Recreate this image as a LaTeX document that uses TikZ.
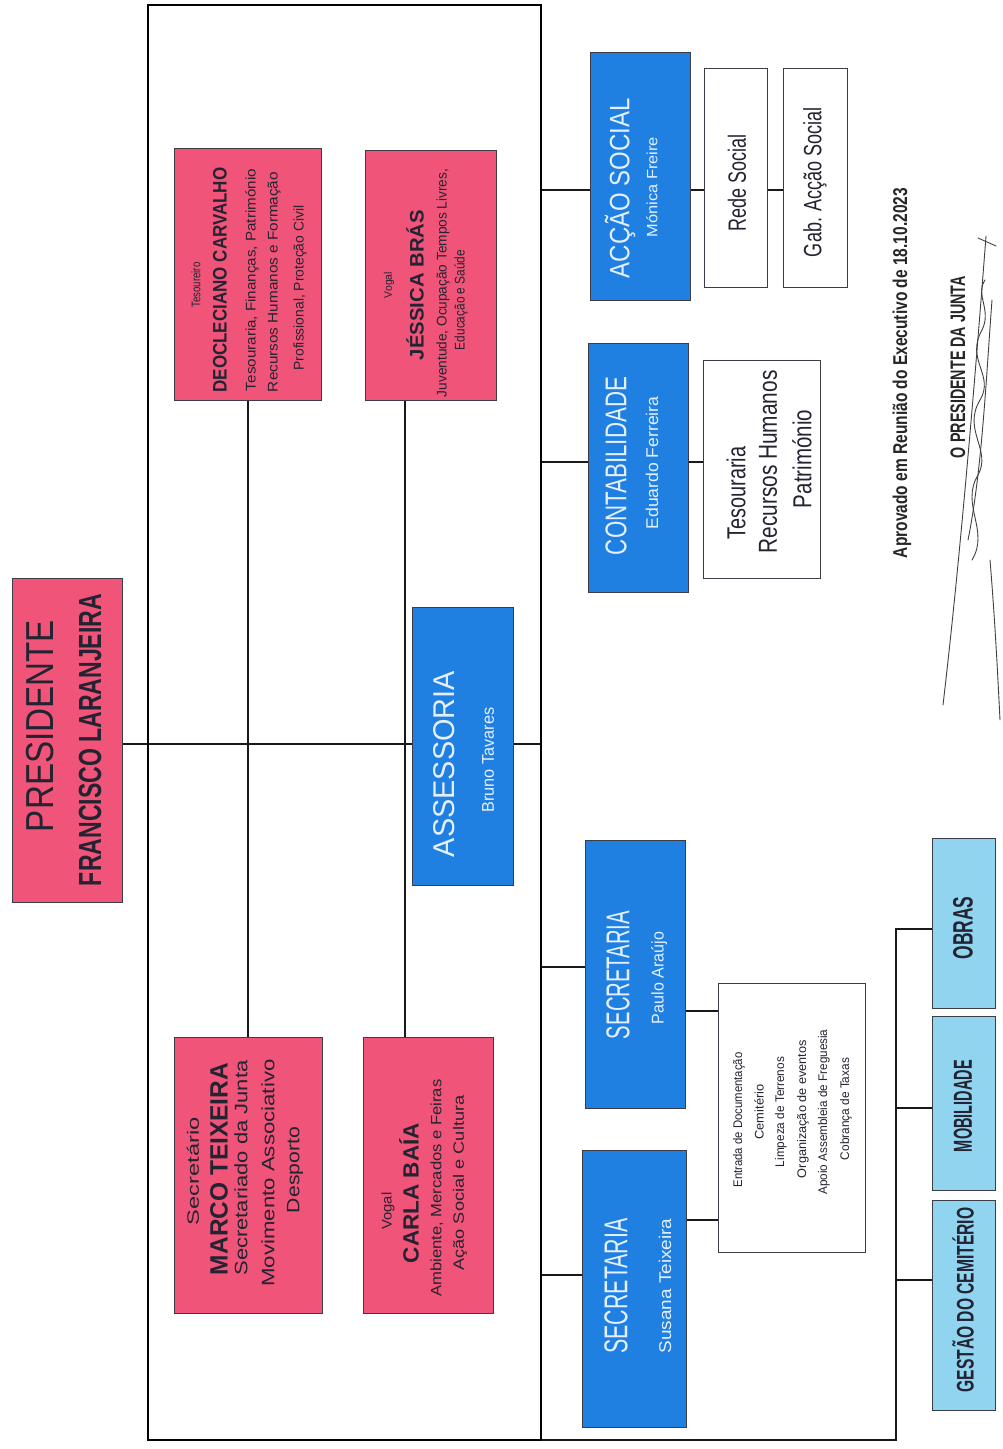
\documentclass[tikz,border=0pt]{standalone}
\usepackage{fontspec}
\setmainfont{Liberation Sans}
\usetikzlibrary{backgrounds}
\definecolor{redfill}{RGB}{240,84,120}
\definecolor{bluefill}{RGB}{32,128,226}
\definecolor{lightfill}{RGB}{145,212,240}
\definecolor{boxline}{RGB}{60,60,70}
\definecolor{paletext}{RGB}{228,240,255}
\definecolor{darktext}{RGB}{35,35,50}
\newcommand{\fit}[3]{\resizebox{#1pt}{\height}{\fontsize{#2}{#2}\selectfont #3}}
\begin{document}
\begin{tikzpicture}[x=1pt,y=-1pt,
  every node/.style={inner sep=0pt, outer sep=0pt},
  cbox/.style n args={3}{draw=boxline, line width=0.8pt, fill=#1, minimum width=#2, minimum height=#3},
  redbox/.style 2 args={cbox={redfill}{#1}{#2}},
  bluebox/.style 2 args={cbox={bluefill}{#1}{#2}},
  whitebox/.style 2 args={cbox={white}{#1}{#2}},
  lightbox/.style 2 args={cbox={lightfill}{#1}{#2}},
  txt/.style={rotate=90, anchor=center, text=darktext},
  wtxt/.style={rotate=90, anchor=center, text=paletext},
  link/.style={draw=black!90, line width=1.8pt},
  sign/.style={draw=black!75, line width=0.9pt, line cap=round}
]
\begin{scope}[on background layer]
\fill[white] (0,0) rectangle (1002,1449);
\end{scope}
\useasboundingbox (0,0) rectangle (1002,1449);

% frame
\node[draw=black, line width=2.6pt, minimum width=393, minimum height=1435] (frame) at (344.5,722.5) {};

% president
\node[redbox={110}{324}] (pres) at (67,740) {};
\node[txt] (presT) at (40,726) {\fit{212}{39}{PRESIDENTE}};
\node[txt] (presN) at (90,740) {\fit{292}{32}{\bfseries FRANCISCO LARANJEIRA}};

% tesoureiro
\node[redbox={147}{252}] (tes) at (248,274) {};
\node[txt] (tes1) at (196,285) {\fit{45}{12.5}{Tesoureiro}};
\node[txt] (tes2) at (220,280) {\fit{225}{19.5}{\bfseries DEOCLECIANO CARVALHO}};
\node[txt] (tes3) at (252,280) {\fit{222}{14}{Tesouraria, Finanças, Património}};
\node[txt] (tes4) at (274,282) {\fit{220}{14}{Recursos Humanos e Formação}};
\node[txt] (tes5) at (300,288) {\fit{165}{14}{Profissional, Proteção Civil}};

% jessica
\node[redbox={131}{250}] (jes) at (430.5,275) {};
\node[txt] (jes1) at (389,285) {\fit{26}{11}{Vogal}};
\node[txt] (jes2) at (415,285) {\fit{150}{19.5}{\bfseries JÉSSICA BRÁS}};
\node[txt] (jes3) at (443,283) {\fit{228}{14}{Juventude, Ocupação Tempos Livres,}};
\node[txt] (jes4) at (461,300) {\fit{100}{14}{Educação e Saúde}};

% marco
\node[redbox={148}{276}] (marco) at (248,1175) {};
\node[txt] (mar1) at (193,1171) {\fit{108}{16.5}{Secretário}};
\node[txt] (mar2) at (219,1169) {\fit{212}{25}{\bfseries MARCO TEIXEIRA}};
\node[txt] (mar3) at (241,1168) {\fit{215}{18}{Secretariado da Junta}};
\node[txt] (mar4) at (268,1173) {\fit{227}{18}{Movimento Associativo}};
\node[txt] (mar5) at (295,1170) {\fit{86}{18}{Desporto}};

% carla
\node[redbox={130}{276}] (carla) at (428,1175) {};
\node[txt] (car1) at (388,1211) {\fit{37}{14}{Vogal}};
\node[txt] (car2) at (409,1193) {\fit{140}{22}{\bfseries CARLA BAÍA}};
\node[txt] (car3) at (437,1188) {\fit{217}{15}{Ambiente, Mercados e Feiras}};
\node[txt] (car4) at (460,1183) {\fit{175}{15}{Ação Social e Cultura}};

% assessoria
\node[bluebox={101}{278}] (ass) at (462.5,746) {};
\node[wtxt] (ass1) at (444,764) {\fit{186}{30}{ASSESSORIA}};
\node[wtxt] (ass2) at (488,760) {\fit{105}{17}{Bruno Tavares}};

% accao social
\node[bluebox={100}{248}] (acs) at (640,176) {};
\node[wtxt] (acs1) at (620,188) {\fit{180}{28}{ACÇÃO SOCIAL}};
\node[wtxt] (acs2) at (652,187) {\fit{100}{15}{Mónica Freire}};
\node[whitebox={63}{219}] (rede) at (735.5,177.5) {};
\node[txt] (rede1) at (737,183) {\fit{97}{25}{Rede Social}};
\node[whitebox={64}{219}] (gab) at (815,177.5) {};
\node[txt] (gab1) at (815,182) {\fit{150}{25}{Gab. Acção Social}};

% contabilidade
\node[bluebox={100}{249}] (cont) at (638,467.5) {};
\node[wtxt] (con1) at (616,466) {\fit{178}{30}{CONTABILIDADE}};
\node[wtxt] (con2) at (652,463) {\fit{133}{17}{Eduardo Ferreira}};
\node[whitebox={117}{218}] (tesl) at (761.5,469) {};
\node[txt] (tl1) at (736,493) {\fit{93}{26}{Tesouraria}};
\node[txt] (tl2) at (768,462) {\fit{183}{26}{Recursos Humanos}};
\node[txt] (tl3) at (802,459) {\fit{98}{26}{Património}};

% secretaria 1
\node[bluebox={100}{268}] (sec1) at (635,974) {};
\node[wtxt] (s1a) at (618,975) {\fit{128}{33}{SECRETARIA}};
\node[wtxt] (s1b) at (659,978) {\fit{92}{17}{Paulo Araújo}};

% secretaria 2
\node[bluebox={104}{277}] (sec2) at (634,1288.5) {};
\node[wtxt] (s2a) at (616,1286) {\fit{135}{33}{SECRETARIA}};
\node[wtxt] (s2b) at (665,1286) {\fit{135}{17}{Susana Teixeira}};

% list
\node[whitebox={147}{269}] (list) at (791.5,1117.5) {};
\node[txt] (l1) at (739,1120) {\fit{135}{12.5}{Entrada de Documentação}};
\node[txt] (l2) at (759,1112) {\fit{55}{12.5}{Cemitério}};
\node[txt] (l3) at (781,1112) {\fit{110}{12.5}{Limpeza de Terrenos}};
\node[txt] (l4) at (803,1109) {\fit{138}{12.5}{Organização de eventos}};
\node[txt] (l5) at (824,1112) {\fit{165}{12.5}{Apoio Assembleia de Freguesia}};
\node[txt] (l6) at (846,1109) {\fit{102}{12.5}{Cobrança de Taxas}};

% bottom boxes
\node[lightbox={63}{170}] (obras) at (963.5,923) {};
\node[txt] (ob1) at (963,928) {\fit{63}{28}{\bfseries OBRAS}};
\node[lightbox={63}{174}] (mob) at (963.5,1103) {};
\node[txt] (mo1) at (963,1106) {\fit{92}{26}{\bfseries MOBILIDADE}};
\node[lightbox={63}{210}] (gest) at (963.5,1305) {};
\node[txt] (ge1) at (963,1300) {\fit{185}{24}{\bfseries GESTÃO DO CEMITÉRIO}};

% approval
\node[txt, text=black!85] (apr) at (902,373) {\fit{370}{20}{\bfseries Aprovado em Reunião do Executivo de 18.10.2023}};
\node[txt, text=black!85] (opj) at (958,367) {\fit{182}{21}{\bfseries O PRESIDENTE DA JUNTA}};

% signature
\draw[sign] (978,238) -- (996,246);
\draw[sign] (986,236) .. controls (975,380) and (960,560) .. (943,705);
\draw[sign] (990,560) .. controls (995,620) and (998,680) .. (1000,720);
\draw[sign] (972,560) .. controls (990,530) and (960,505) .. (978,475)
  .. controls (992,450) and (962,430) .. (980,400)
  .. controls (995,375) and (965,360) .. (982,330)
  .. controls (992,310) and (975,295) .. (985,280);
\draw[sign] (968,540) .. controls (982,470) and (986,380) .. (992,300);

% connectors
\coordinate (ymain) at (0,744);
\coordinate (xj) at (405,0);
\coordinate (ya) at (0,190);
\coordinate (yc) at (0,462);
\coordinate (yp) at (0,967);
\coordinate (ys) at (0,1275);
\coordinate (yl1) at (0,1011);
\coordinate (yl2) at (0,1220);
\coordinate (bus) at (896,1440);
\coordinate (yo) at (0,929);
\coordinate (ym) at (0,1108);
\coordinate (yg) at (0,1280);
\begin{scope}[on background layer]
\draw[link] (pres.east |- ymain) -- (frame.east |- ymain);
\draw[link] (tes.south) -- (tes.south |- marco.north);
\draw[link] (jes.south -| xj) -- (carla.north -| xj);
\draw[link] (frame.east |- ya) -- (acs.west |- ya);
\draw[link] (acs.east |- ya) -- (rede.west |- ya);
\draw[link] (rede.east |- ya) -- (gab.west |- ya);
\draw[link] (frame.east |- yc) -- (cont.west |- yc);
\draw[link] (cont.east |- yc) -- (tesl.west |- yc);
\draw[link] (frame.east |- yp) -- (sec1.west |- yp);
\draw[link] (frame.east |- ys) -- (sec2.west |- ys);
\draw[link] (sec1.east |- yl1) -- (list.west |- yl1);
\draw[link] (sec2.east |- yl2) -- (list.west |- yl2);
\draw[link] (frame.south east) -- (bus) -- (bus |- yo) -- (obras.west |- yo);
\draw[link] (bus |- ym) -- (mob.west |- ym);
\draw[link] (bus |- yg) -- (gest.west |- yg);
\end{scope}
\end{tikzpicture}
\end{document}
